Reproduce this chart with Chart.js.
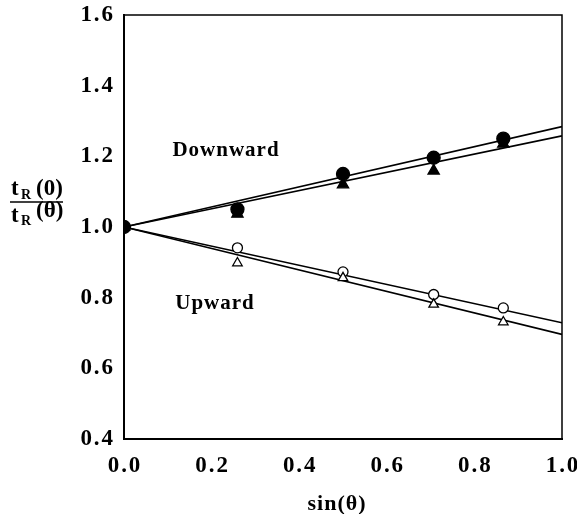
<!DOCTYPE html>
<html>
<head>
<meta charset="utf-8">
<script src="https://cdn.jsdelivr.net/npm/chart.js@4/dist/chart.umd.min.js"></script>
<style>
  html, body { margin: 0; padding: 0; background: #fff; }
  #wrap { width: 577px; height: 514px; position: relative; }
</style>
</head>
<body>
<div id="wrap"><canvas id="chart"></canvas></div>
<script>
// sin(theta) for 0, 15, 30, 45, 60 degrees
const sinTheta = [0, 0.259, 0.5, 0.707, 0.866];

// Downward
const downCircles = [1.0, 1.05, 1.15, 1.196, 1.25];
const downTriangles = [1.0, 1.037, 1.12, 1.159, 1.235];
// Upward
const upCircles = [1.0, 0.941, 0.873, 0.809, 0.771];
const upTriangles = [1.0, 0.898, 0.856, 0.781, 0.731];

// fitted lines, end points at sin = 0 and 1
const fitX = [0, 1];
const fitDownCircle = [1.0, 1.284];
const fitDownTriangle = [1.0, 1.258];
const fitUpCircle = [1.0, 0.729];
const fitUpTriangle = [1.0, 0.696];

const SERIF = '"Liberation Serif", "Times New Roman", serif';

const pts = (xs, ys) => xs.map((x, i) => ({ x: x, y: ys[i] }));

const fitLine = (ys) => ({
    type: 'line',
    data: pts(fitX, ys),
    borderColor: '#000',
    borderWidth: 1.6,
    pointRadius: 0,
    showLine: true,
    order: 5
});

const marks = (ys, style, filled, r) => ({
    type: 'scatter',
    data: pts(sinTheta, ys),
    pointStyle: style,
    pointRadius: r,
    pointBackgroundColor: filled ? '#000' : '#fff',
    pointBorderColor: '#000',
    pointBorderWidth: 1.3,
    showLine: false,
    order: 1
});

// frame, axis titles and curve labels
const decor = {
    id: 'decor',
    afterDraw(chart) {
        const ctx = chart.ctx;
        const a = chart.chartArea;
        ctx.save();
        ctx.strokeStyle = '#000';
        ctx.lineWidth = 1.5;
        ctx.beginPath();
        ctx.moveTo(a.left, a.top);
        ctx.lineTo(a.right, a.top);
        ctx.lineTo(a.right, a.bottom);
        ctx.stroke();

        ctx.fillStyle = '#000';
        ctx.textBaseline = 'middle';
        ctx.textAlign = 'center';
        ctx.font = 'bold 21px ' + SERIF;
        ctx.letterSpacing = '1px';
        ctx.fillText('Downward', 226, 151);
        ctx.fillText('Upward', 215, 304);

        ctx.font = 'bold 22px ' + SERIF;
        ctx.fillText('sin(\u03b8)', 337, 504);

        // y title as a fraction
        ctx.letterSpacing = '0px';
        ctx.textAlign = 'left';
        ctx.textBaseline = 'alphabetic';
        ctx.font = 'bold 23px ' + SERIF;
        ctx.fillText('t', 11, 195);
        ctx.fillText('(0)', 36, 195);
        ctx.fillText('t', 11, 222);
        ctx.fillText('(\u03b8)', 36, 217);
        ctx.font = 'bold 14px ' + SERIF;
        ctx.fillText('R', 21, 199);
        ctx.fillText('R', 21, 225);
        ctx.lineWidth = 1.3;
        ctx.beginPath();
        ctx.moveTo(10, 202);
        ctx.lineTo(63, 202);
        ctx.stroke();
        ctx.restore();
    }
};

const evenLabel = (v) => (Math.round(v * 10) % 2 === 0 ? v.toFixed(1).split('').join('\u200a') : '');

new Chart(document.getElementById('chart'), {
    type: 'scatter',
    data: {
        datasets: [
            fitLine(fitDownCircle),
            fitLine(fitDownTriangle),
            fitLine(fitUpCircle),
            fitLine(fitUpTriangle),
            marks(downTriangles, 'triangle', true, 6.5),
            marks(downCircles, 'circle', true, 6.5),
            marks(upTriangles, 'triangle', false, 5.5),
            marks(upCircles, 'circle', false, 5)
        ]
    },
    options: {
        responsive: true,
        maintainAspectRatio: false,
        animation: false,
        layout: { padding: { top: 15, right: 15, left: 0, bottom: 0 } },
        plugins: { legend: { display: false }, tooltip: { enabled: false } },
        scales: {
            x: {
                type: 'linear',
                min: 0, max: 1,
                afterFit: (s) => { s.height = 75; s.paddingLeft = 0; s.paddingRight = 0; },
                grid: { display: false, drawTicks: true, tickLength: 5, tickColor: '#000', tickWidth: 1.3 },
                border: { color: '#000', width: 2 },
                ticks: {
                    stepSize: 0.1,
                    autoSkip: false,
                    maxRotation: 0,
                    padding: 8,
                    color: '#000',
                    font: { family: SERIF, size: 23, weight: 'bold' },
                    callback: evenLabel
                }
            },
            y: {
                type: 'linear',
                min: 0.4, max: 1.6,
                afterFit: (s) => { s.width = 124; s.paddingTop = 0; s.paddingBottom = 0; },
                grid: { display: false, drawTicks: true, tickLength: 5, tickColor: '#000', tickWidth: 1.3 },
                border: { color: '#000', width: 2 },
                ticks: {
                    stepSize: 0.1,
                    autoSkip: false,
                    padding: 6,
                    color: '#000',
                    font: { family: SERIF, size: 23, weight: 'bold' },
                    callback: evenLabel
                }
            }
        }
    },
    plugins: [decor]
});
</script>
</body>
</html>
